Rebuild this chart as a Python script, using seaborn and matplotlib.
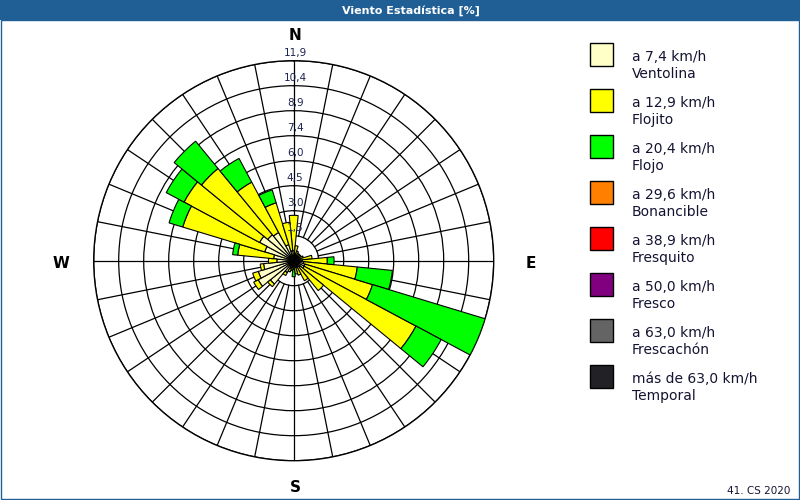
import numpy as np
import matplotlib
matplotlib.use("Agg")
import matplotlib.pyplot as plt
from matplotlib.patches import Rectangle
import seaborn as sns

sns.set_theme(style="white")
plt.rcParams['font.family'] = ['DejaVu Sans']

# ---- data -------------------------------------------------------------
directions = ["N", "NbE", "NNE", "NEbN", "NE", "NEbE", "ENE", "EbN",
              "E", "EbS", "ESE", "SEbE", "SE", "SEbS", "SSE", "SbE",
              "S", "SbW", "SSW", "SWbS", "SW", "SWbW", "WSW", "WbS",
              "W", "WbN", "WNW", "NWbW", "NW", "NWbN", "NNW", "NbW"]

ventolina = [0.6, 0.4, 0.3, 0.3, 0.3, 0.3, 0.3, 0.4,
             0.5, 0.6, 0.7, 0.7, 0.5, 0.4, 0.4, 0.4,
             0.3, 0.4, 0.5, 0.8, 1.8, 2.4, 2.2, 1.8,
             1.0, 1.2, 1.8, 2.3, 2.0, 1.9, 1.0, 0.6]
flojito = [2.1, 0.5, 0.3, 0.2, 0.2, 0.2, 0.3, 0.7,
           1.5, 3.2, 4.2, 7.55, 1.8, 0.95, 0.5, 0.4,
           0.2, 0.2, 0.2, 0.2, 0.2, 0.3, 0.35, 0.2,
           0.5, 2.15, 5.1, 5.1, 5.1, 3.4, 2.6, 1.7]
flojo = [0, 0, 0, 0, 0, 0, 0, 0,
         0.4, 2.1, 7.0, 1.7, 0, 0, 0, 0,
         0.45, 0, 0, 0, 0, 0, 0, 0,
         0, 0.3, 0.85, 1.2, 2.1, 1.6, 0.8, 0]
zeros = [0.0] * 32
bonancible = zeros
fresquito = zeros
fresco = zeros
frescachon = zeros
temporal = zeros

series = [ventolina, flojito, flojo, bonancible, fresquito, fresco, frescachon, temporal]
legend_l1 = ["a 7,4 km/h", "a 12,9 km/h", "a 20,4 km/h", "a 29,6 km/h",
             "a 38,9 km/h", "a 50,0 km/h", "a 63,0 km/h", "más de 63,0 km/h"]
legend_l2 = ["Ventolina", "Flojito", "Flojo", "Bonancible",
             "Fresquito", "Fresco", "Frescachón", "Temporal"]
colors = ["#FFFFC8", "#FFFF00", "#00FF00", "#FF8000",
          "#FF0000", "#800080", "#646464", "#222226"]

ring_values = [1.5, 3.0, 4.5, 6.0, 7.4, 8.9, 10.4, 11.9]
rmax = 11.9
compass = ["N", "E", "S", "W"]

# ---- figure -----------------------------------------------------------
W, H = 800, 500
fig = plt.figure(figsize=(8, 5), dpi=100)
fig.patch.set_facecolor("white")

# background axes in pixel coordinates
bg = fig.add_axes([0, 0, 1, 1], zorder=0)
bg.set_xlim(0, W)
bg.set_ylim(H, 0)
bg.axis("off")
bar_col = "#1f5f96"
bg.add_patch(Rectangle((0, 0), W, 20, facecolor=bar_col, edgecolor="none"))
bg.add_patch(Rectangle((0.5, 20), W - 1.5, H - 21, facecolor="none",
                       edgecolor=bar_col, lw=1))
bg.text(411, 10.5, "Viento Estadística [%]", color="white", fontsize=8,
        fontweight="bold", ha="center", va="center")
bg.text(790, 491.5, "41. CS 2020", color="#141432", fontsize=7.5,
        ha="right", va="center")

# legend
for i, (l1, l2, c) in enumerate(zip(legend_l1, legend_l2, colors)):
    y0 = 43 + 46 * i
    bg.add_patch(Rectangle((590, y0), 23, 23, facecolor=c, edgecolor="black", lw=1))
    bg.text(632, y0 + 14, l1, fontsize=10, color="#141432", ha="left", va="center")
    bg.text(632, y0 + 31, l2, fontsize=10, color="#141432", ha="left", va="center")

# compass labels
cx, cy, R = 293.7, 260.7, 200.0
pos = {"N": (cx + 1, 36), "E": (531, 264), "S": (cx + 2, 488), "W": (61, 264)}
for k in compass:
    bg.text(*pos[k], k, fontsize=11, fontweight="bold", color="black",
            ha="center", va="center")

# polar axes
ax = fig.add_axes([(cx - R) / W, (H - cy - R) / H, 2 * R / W, 2 * R / H],
                  projection="polar", zorder=2)
ax.set_facecolor("none")
ax.set_theta_zero_location("N")
ax.set_theta_direction(-1)
ax.set_ylim(0, rmax)
ax.set_xticks([])
ring_r = [rmax * (k + 1) / len(ring_values) for k in range(len(ring_values))]
ax.set_yticks(ring_r)
ax.set_yticklabels([])
ax.yaxis.grid(True, color="black", lw=0.9)
ax.xaxis.grid(False)
ax.spines["polar"].set_color("black")
ax.spines["polar"].set_linewidth(1)
ax.set_axisbelow(True)

n = len(directions)
theta = np.deg2rad(np.arange(n) * 360.0 / n)
width = 2 * np.pi / n

# spokes
for i, t in enumerate(theta):
    r0 = 0 if i % 8 == 0 else ring_r[0]
    ax.plot([t, t], [r0, rmax], color="black", lw=0.9, zorder=1)

# stacked bars
bottom = np.zeros(n)
for vals, c in zip(series, colors):
    vals = np.asarray(vals, dtype=float)
    mask = vals > 0
    if mask.any():
        ax.bar(theta[mask], vals[mask], width=width, bottom=bottom[mask],
               color=c, edgecolor="black", linewidth=0.8, zorder=3)
    bottom = bottom + vals

# foreground overlay for ring labels (drawn over the bars)
fg = fig.add_axes([0, 0, 1, 1], zorder=5)
fg.set_xlim(0, W)
fg.set_ylim(H, 0)
fg.axis("off")
fg.patch.set_alpha(0)
for rv, rr in zip(ring_values, ring_r):
    ypix = cy - rr / rmax * R
    fg.text(cx + 1.5, ypix - 7.5, f"{rv:.1f}".replace(".", ","), fontsize=7.5,
            color="#1c2350", ha="center", va="center")

fig.savefig("out.png", dpi=100)
